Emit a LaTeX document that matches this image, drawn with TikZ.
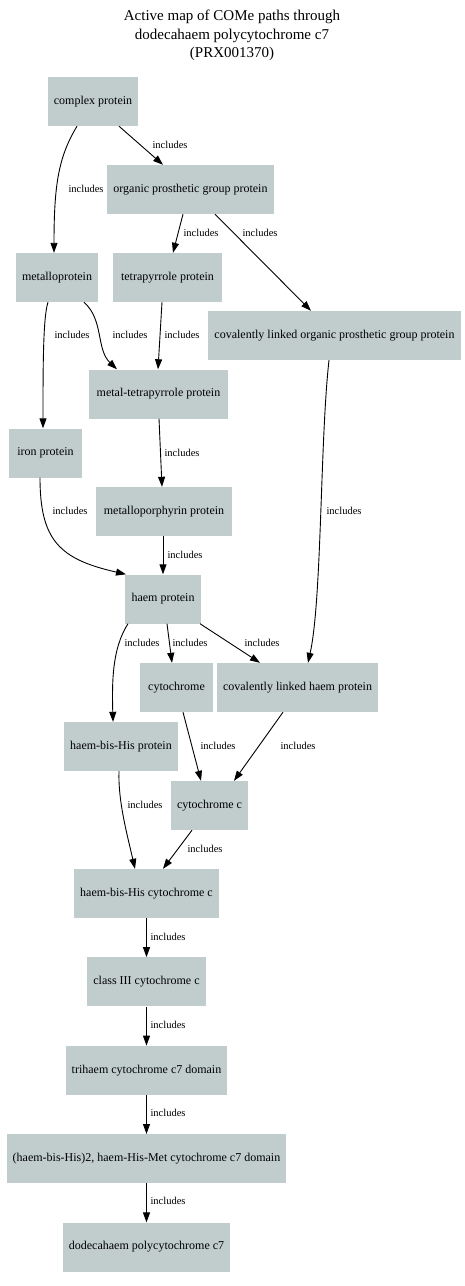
\documentclass[tikz,border=0pt]{standalone}
\usepackage{fontspec}
\setmainfont{Liberation Serif}
\usetikzlibrary{arrows.meta, positioning}
\definecolor{termgray}{RGB}{193,205,205}
\tikzstyle{term} = [rectangle, fill=termgray, minimum height=49pt, inner xsep=6pt, inner ysep=0pt, font=\fontsize{12}{14}\selectfont]
\tikzstyle{arrow} = [-{Triangle[length=10pt, width=7pt]}, line width=0.9pt]
\tikzstyle{lbl} = [font=\fontsize{10.5}{12}\selectfont, inner sep=0pt]

\begin{document}
\begin{tikzpicture}[x=1pt, y=-1pt]
  \useasboundingbox (0,0) rectangle (464,1286);

  \node[align=center, font=\fontsize{15}{18.5}\selectfont] (title) at (232,35.5)
    {Active map of COMe paths through\\ dodecahaem polycytochrome c7\\(PRX001370)};

  % upper part of the map
  \node[term, minimum width=90pt] (cplx) at (93,101.5) {complex protein};
  \node[term, minimum width=167pt] (ogp) at (190.5,189.5) {organic prosthetic group protein};
  \node[term, minimum width=82pt] (metp) at (57,277.5) {metalloprotein};
  \node[term, minimum width=109pt] (tetp) at (167.5,277.5) {tetrapyrrole protein};
  \node[term, minimum width=253pt] (clogp) at (334.5,335.5) {covalently linked organic prosthetic group protein};
  \node[term, minimum width=139pt] (mtp) at (158.5,394) {metal-tetrapyrrole protein};
  \node[term, minimum width=73pt] (iron) at (45.5,453) {iron protein};
  \node[term, minimum width=136pt] (mpp) at (164,511.5) {metalloporphyrin protein};
  \node[term, minimum width=76pt] (haem) at (163,599) {haem protein};
  \node[term, minimum width=73pt] (cyt) at (176.5,687.5) {cytochrome};
  \node[term, minimum width=161pt] (clh) at (297.5,687.5) {covalently linked haem protein};
  \node[term, minimum width=114pt] (hbhp) at (121,746.5) {haem-bis-His protein};
  \node[term, minimum width=77pt] (cytc) at (209.5,805.5) {cytochrome c};
  \node[term, minimum width=143pt] (hbhc) at (146.5,893.5) {haem-bis-His cytochrome c};

  % the chain down to PRX001370
  \node[term, minimum width=117pt, below=39pt of hbhc] (c3) {class III cytochrome c};
  \node[term, minimum width=161pt, below=39pt of c3] (tri) {trihaem cytochrome c7 domain};
  \node[term, minimum width=279pt, below=39pt of tri] (hh2) {(haem-bis-His)2, haem-His-Met cytochrome c7 domain};
  \node[term, minimum width=166pt, below=39pt of hh2] (dodeca) {dodecahaem polycytochrome c7};

  \draw[arrow] ([xshift=-16pt]cplx.south) .. controls +(-18,30) and +(0,-70) .. ([xshift=-3pt]metp.north) node[lbl] at (86,189) {includes};
  \draw[arrow] ([xshift=26pt]cplx.south) -- ([xshift=-27.5pt]ogp.north) node[lbl] at (170,145) {includes};
  \draw[arrow] ([xshift=-7.5pt]ogp.south) -- ([xshift=5.5pt]tetp.north) node[lbl] at (201,233) {includes};
  \draw[arrow] ([xshift=24.5pt]ogp.south) -- ([xshift=-23.5pt]clogp.north) node[lbl] at (260,233) {includes};
  \draw[arrow] ([xshift=-9pt]metp.south) .. controls +(-5,15) and +(0,-60) .. ([xshift=-2.5pt]iron.north) node[lbl] at (72,335) {includes};
  \draw[arrow] ([xshift=27pt]metp.south) .. controls +(20,18) and +(-21,-20) .. ([xshift=-41.5pt]mtp.north) node[lbl] at (130,335) {includes};
  \draw[arrow] ([xshift=-5.5pt]tetp.south) -- ([xshift=-0.5pt]mtp.north) node[lbl] at (182,335) {includes};
  \draw[arrow] ([xshift=0.5pt]mtp.south) -- ([xshift=-2pt]mpp.north) node[lbl] at (182,453) {includes};
  \draw[arrow] ([xshift=-5.5pt]iron.south) .. controls +(0,63) and +(-66,-15) .. ([xshift=-37pt]haem.north) node[lbl] at (70,511) {includes};
  \draw[arrow] ([xshift=-1pt]mpp.south) -- (haem.north) node[lbl] at (185,555) {includes};
  \draw[arrow] ([xshift=-5.5pt]clogp.south) .. controls +(-9,80) and +(14,-63) .. ([xshift=10.5pt]clh.north) node[lbl] at (344,511) {includes};
  \draw[arrow] ([xshift=-35pt]haem.south) .. controls +(-16,25) and +(-1,-40) .. ([xshift=-8pt]hbhp.north) node[lbl] at (142,643) {includes};
  \draw[arrow] ([xshift=4pt]haem.south) -- ([xshift=-4.5pt]cyt.north) node[lbl] at (190,643) {includes};
  \draw[arrow] ([xshift=37pt]haem.south) -- ([xshift=-37.5pt]clh.north) node[lbl] at (262,643) {includes};
  \draw[arrow] ([xshift=6.5pt]cyt.south) -- ([xshift=-8.5pt]cytc.north) node[lbl] at (218,746) {includes};
  \draw[arrow] ([xshift=-14.5pt]clh.south) -- ([xshift=24.5pt]cytc.north) node[lbl] at (298,746) {includes};
  \draw[arrow] ([xshift=-2pt]hbhp.south) .. controls +(-1,30) and +(-8,-35) .. ([xshift=-11.5pt]hbhc.north) node[lbl] at (145,805) {includes};
  \draw[arrow] ([xshift=-17.5pt]cytc.south) -- ([xshift=16.5pt]hbhc.north) node[lbl] at (205,849) {includes};
  \draw[arrow] (hbhc) -- (c3) node[lbl] at (168,937) {includes};
  \draw[arrow] (c3) -- (tri) node[lbl] at (168,1025) {includes};
  \draw[arrow] (tri) -- (hh2) node[lbl] at (168,1113) {includes};
  \draw[arrow] (hh2) -- (dodeca) node[lbl] at (168,1201) {includes};
\end{tikzpicture}
\end{document}
